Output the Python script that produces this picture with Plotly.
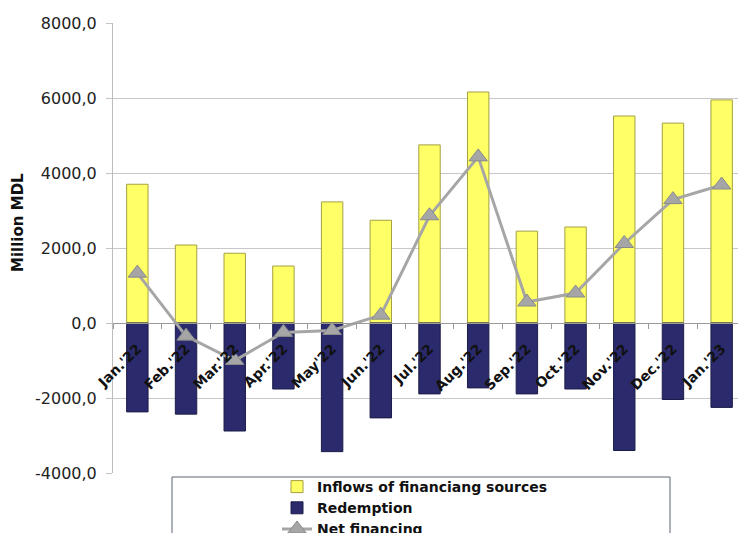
import plotly.graph_objects as go

# Monthly financing flows, million MDL
months = ["Jan.'22", "Feb.'22", "Mar.'22", "Apr.'22", "May'22", "Jun.'22", "Jul.'22",
          "Aug.'22", "Sep.'22", "Oct.'22", "Nov.'22", "Dec.'22", "Jan.'23"]
inflows = [3700, 2080, 1860, 1520, 3230, 2740, 4750, 6160, 2450, 2560, 5520, 5330, 5950]
redemption = [-2370, -2430, -2880, -1760, -3430, -2530, -1890, -1730, -1890, -1760, -3400, -2040, -2250]
net_financing = [1330, -350, -1000, -250, -200, 210, 2860, 4430, 560, 800, 2120, 3290, 3680]

y_ticks = [-4000, -2000, 0, 2000, 4000, 6000, 8000]
y_tick_text = [f"{v:.1f}".replace(".", ",") for v in y_ticks]

W, H = 738, 533
M_L, M_R, M_T, M_B = 113, 0, 23, 60
plot_w = W - M_L - M_R
plot_h = H - M_T - M_B

fig = go.Figure()
fig.add_trace(go.Bar(
    x=months, y=inflows, name="Inflows of financiang sources",
    marker=dict(color="#FFFF66", line=dict(color="#A5A040", width=1)),
))
fig.add_trace(go.Bar(
    x=months, y=redemption, name="Redemption",
    marker=dict(color="#2A2A6C", line=dict(color="#1C1C4A", width=1)),
))
fig.add_trace(go.Scatter(
    x=months, y=net_financing, name="Net financing", mode="lines+markers",
    line=dict(color="#A6A6A6", width=3),
    marker=dict(symbol="triangle-up", size=16, color="#A6A6A6",
                line=dict(color="#8A8A8A", width=1)),
))


def px_x(px):
    return (px - M_L) / plot_w


def px_y(py):
    return (H - M_B - py) / plot_h


y_min, y_max = -4000, 8000
zero_pos = (0 - y_min) / (y_max - y_min)

fig.update_layout(
    width=W, height=H,
    margin=dict(l=M_L, r=M_R, t=M_T, b=M_B, autoexpand=False),
    paper_bgcolor="white", plot_bgcolor="white",
    barmode="relative", bargap=0.56,
    font=dict(family="DejaVu Sans", color="#1a1a1a"),
    showlegend=True,
    legend=dict(
        orientation="v", traceorder="normal",
        xref="container", yref="container",
        x=277 / W, xanchor="left",
        y=1 - 471 / H, yanchor="top",
        bgcolor="rgba(0,0,0,0)", borderwidth=0,
        font=dict(family="DejaVu Sans", size=14, color="#111111", weight="bold"),
        tracegroupgap=0,
    ),
    xaxis=dict(
        type="category",
        range=[-0.5, 12.5 - 8 / 48.7],
        anchor="free", position=zero_pos,
        showline=True, linecolor="#9a9a9a", linewidth=1,
        ticks="outside", tickson="boundaries", ticklen=5, tickcolor="#9a9a9a",
        tickangle=-45, ticklabelstandoff=11,
        tickfont=dict(family="DejaVu Sans", size=14, color="#111111", weight="bold"),
        showgrid=False, zeroline=False,
    ),
    yaxis=dict(
        range=[y_min, y_max],
        tickvals=y_ticks, ticktext=y_tick_text,
        tickfont=dict(family="DejaVu Sans", size=16, color="#222222"),
        ticks="outside", ticklen=6, tickcolor="#c4c4c4", ticklabelstandoff=6,
        showgrid=True, gridcolor="#c8c8c8", gridwidth=1,
        zeroline=False,
        showline=True, linecolor="#bdbdbd", linewidth=1,
    ),
    annotations=[dict(
        text="Million MDL", textangle=-90,
        xref="paper", yref="paper", x=px_x(18), y=px_y(223),
        xanchor="center", yanchor="middle", showarrow=False,
        font=dict(family="DejaVu Sans", size=15, color="#111111", weight="bold"),
    )],
    shapes=[dict(
        type="rect", xref="paper", yref="paper",
        x0=px_x(172), x1=px_x(670), y0=px_y(477), y1=px_y(560),
        line=dict(color="#5a6470", width=1), fillcolor="rgba(0,0,0,0)",
        layer="above",
    )],
)

fig.write_html("out.html")
